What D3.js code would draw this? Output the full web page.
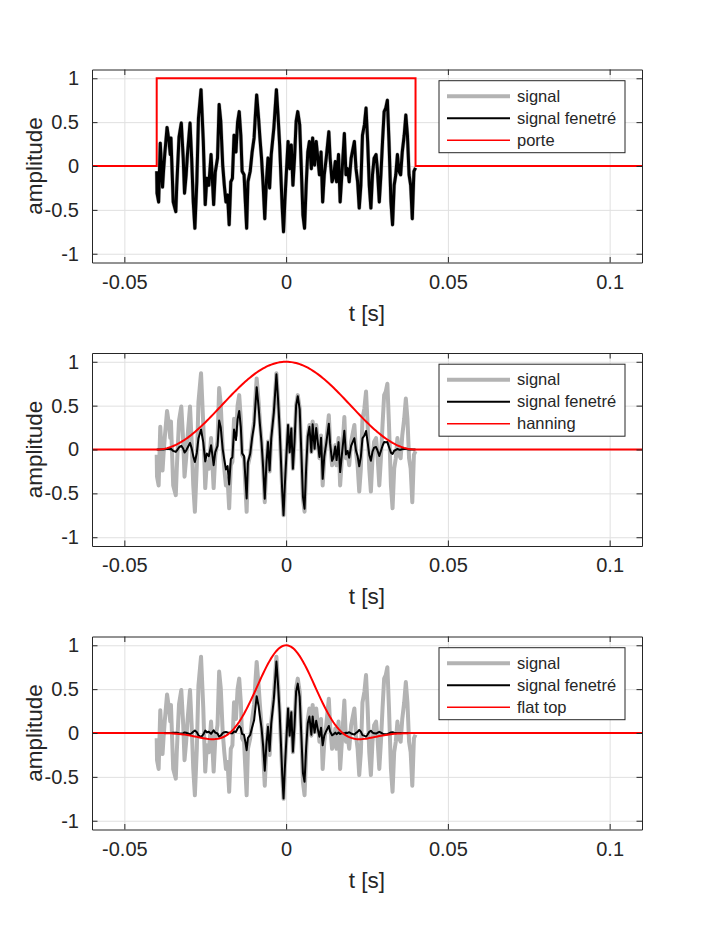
<!DOCTYPE html>
<html><head><meta charset="utf-8">
<script src="https://cdn.jsdelivr.net/npm/d3@7"></script>
<style>
body{margin:0;background:#fff}
svg{display:block}
text{font-family:"Liberation Sans",Arial,Helvetica,sans-serif;fill:#262626}
</style>
</head><body>
<svg id="c" width="709" height="945"></svg>
<script>
// ---- data (time in ms) ----
const sigT = [-40.0,-39.9,-39.4,-38.9,-38.2,-37.9,-37.5,-36.8,-36.2,-35.8,-35.6,-34.9,-34.1,-33.8,-33.1,-32.4,-31.8,-31.4,-30.9,-30.5,-29.7,-29.2,-28.7,-28.2,-27.6,-27.1,-26.3,
 -25.6,-25.0,-24.5,-23.9,-23.2,-22.7,-22.4,-21.9,-21.2,-20.7,-20.2,-19.6,-19.1,-18.6,-18.1,-17.6,-17.1,-16.6,-16.1,-15.5,-15.0,-14.5,
 -14.0,-13.6,-13.0,-12.6,-12.2,-11.8,-11.1,-10.5,-9.9,-9.5,-9.1,-8.5,-8.1,-7.6,-7.1,-6.6,-6.1,-5.6,-5.1,-4.6,-3.8,-3.0,-2.5,-2.0,
 -1.2,-0.8,-0.4,0.1,0.6,1.1,1.6,2.1,2.6,3.1,3.6,4.2,4.7,5.2,5.7,6.2,6.7,7.2,7.8,8.2,8.8,9.3,9.8,10.3,10.8,11.3,11.8,12.4,13.2,13.6,14.2,14.6,15.2,15.6,16.2,16.7,17.3,18.0,
 18.5,19.0,19.5,20.1,21.1,21.6,22.1,22.6,23.1,23.6,24.2,24.7,25.2,25.7,26.2,26.7,27.2,27.8,28.2,28.8,29.3,29.8,30.3,30.8,31.3,31.8,32.4,32.9,33.4,33.9,34.4,34.9,35.4,35.9,36.5,37.0,37.5,38.0,38.5,39.0,39.5,40.0];
const sigV = [-0.06,-0.31,-0.41,0.26,-0.24,-0.06,0.14,0.44,0.28,0.13,0.32,-0.41,-0.52,-0.22,0.33,0.49,0.09,-0.31,-0.10,0.13,0.49,0.09,-0.41,-0.71,-0.18,0.54,0.87,
 0.28,-0.44,-0.14,-0.22,0.13,-0.22,-0.44,-0.07,0.09,0.70,0.51,0.01,-0.22,-0.41,-0.33,-0.67,-0.18,-0.14,0.35,0.16,0.50,0.62,
 0.35,-0.06,-0.10,-0.41,-0.71,-0.18,-0.06,0.16,0.32,0.58,0.81,0.54,0.32,0.09,-0.22,-0.60,-0.18,0.09,-0.25,0.13,0.43,0.87,0.58,0.24,
 -0.48,-0.75,-0.41,-0.06,0.28,-0.03,0.24,-0.22,0.09,0.51,0.62,0.47,-0.03,-0.56,-0.71,-0.22,0.16,0.28,-0.03,0.32,0.01,0.28,0.09,-0.10,0.16,-0.41,-0.10,0.09,0.39,0.09,-0.18,-0.14,0.05,-0.18,0.13,-0.41,-0.06,0.37,
 -0.10,-0.03,-0.18,0.09,0.28,-0.03,-0.18,-0.48,-0.22,0.35,0.47,0.66,0.28,-0.22,-0.48,-0.10,0.09,0.13,-0.03,-0.41,-0.10,0.28,0.62,0.66,0.75,0.28,-0.41,-0.67,-0.22,-0.10,0.13,-0.06,-0.10,0.16,0.35,0.58,0.35,-0.10,-0.22,-0.60,-0.06,-0.02];
const porteT = [-60,-40,-40,40,40,110];
const porteV = [0,0,1,1,0,0];
const xTicks = [-0.05,0,0.05,0.1];
const xTickLabels = ["-0.05","0","0.05","0.1"];
const yTicks = [-1,-0.5,0,0.5,1];
const yTickLabels = ["-1","-0.5","0","0.5","1"];
const windowNames = ["porte","hanning","flat top"];
const legendNames = ["signal","signal fenetré"];
const xDomain = [-0.06,0.11];
const yDomain = [-1.1,1.1];
const halfWidth = 0.04; // window half length (s)

// window definitions
const flatA = [0.21557895,0.41663158,0.277263158,0.083578947,0.006947368];
function win(kind, t){
  if (t < -halfWidth || t > halfWidth) return 0;
  const x = (t + halfWidth) / (2*halfWidth);
  if (kind === "porte") return 1;
  if (kind === "hanning") return 0.5*(1 - Math.cos(2*Math.PI*x));
  let w = 0;
  flatA.forEach((a,k)=>{ w += (k%2 ? -1 : 1)*a*Math.cos(2*Math.PI*k*x); });
  return w;
}

const n = Math.min(sigT.length, sigV.length);
const signal = d3.range(n).map(i => ({t: sigT[i]/1000, v: sigV[i]}));

const svg = d3.select("#c");
const L = 92, R = 642, H = 193;
const tops = [69.5, 353, 636.5];
const x = d3.scaleLinear().domain(xDomain).range([L, R]);
const FONT = '"Liberation Sans",Arial,sans-serif';

windowNames.forEach((kind, p) => {
  const top = tops[p];
  const y = d3.scaleLinear().domain(yDomain).range([top + H, top]);
  const g = svg.append("g");
  const clipId = "clip" + p;
  svg.append("clipPath").attr("id", clipId).append("rect")
     .attr("x", L).attr("y", top).attr("width", R-L).attr("height", H);

  // grid
  g.append("g").attr("transform", `translate(0,${top+H})`)
    .call(d3.axisBottom(x).tickValues(xTicks).tickSize(-H).tickFormat(""))
    .call(a => { a.select(".domain").remove(); a.selectAll("line").attr("stroke","#e0e0e0").attr("stroke-width",1); });
  g.append("g").attr("transform", `translate(${L},0)`)
    .call(d3.axisLeft(y).tickValues(yTicks).tickSize(-(R-L)).tickFormat(""))
    .call(a => { a.select(".domain").remove(); a.selectAll("line").attr("stroke","#e0e0e0").attr("stroke-width",1); });

  const line = d3.line().x(d => x(d.t)).y(d => y(d.v));
  const plot = g.append("g").attr("clip-path", `url(#${clipId})`);

  // signal (gray)
  plot.append("path").datum(signal).attr("d", line)
    .attr("fill","none").attr("stroke","#b3b3b3").attr("stroke-width",4).attr("stroke-linejoin","round");
  // windowed signal
  const windowed = signal.map(d => ({t: d.t, v: d.v * win(kind, d.t)}));
  plot.append("path").datum(windowed).attr("d", line)
    .attr("fill","none").attr("stroke","#000").attr("stroke-width", p === 0 ? 3 : 2).attr("stroke-linejoin","round");
  // window curve
  let wpts;
  if (kind === "porte") {
    wpts = porteT.map((t,i) => ({t: t/1000, v: porteV[i]}));
  } else {
    wpts = [{t: xDomain[0], v: 0}]
      .concat(signal.map(d => ({t: d.t, v: win(kind, d.t)})))
      .concat([{t: xDomain[1], v: 0}]);
  }
  plot.append("path").datum(wpts).attr("d", line)
    .attr("fill","none").attr("stroke","#ff0000").attr("stroke-width",2);

  // axes box + ticks
  const tk = 5.5;
  g.append("g").attr("transform", `translate(0,${top+H})`)
    .call(d3.axisBottom(x).tickValues(xTicks).tickSizeInner(-tk).tickSizeOuter(0)
      .tickFormat((d,i) => xTickLabels[i]).tickPadding(12))
    .call(a => { a.select(".domain").attr("stroke","#262626");
      a.selectAll("line").attr("stroke","#262626");
      a.selectAll("text").attr("font-size",20).attr("fill","#262626").attr("font-family",FONT); });
  g.append("g").attr("transform", `translate(0,${top})`)
    .call(d3.axisTop(x).tickValues(xTicks).tickSizeInner(-tk).tickSizeOuter(0).tickFormat(""))
    .call(a => { a.select(".domain").attr("stroke","#262626"); a.selectAll("line").attr("stroke","#262626"); });
  g.append("g").attr("transform", `translate(${L},0)`)
    .call(d3.axisLeft(y).tickValues(yTicks).tickSizeInner(-tk).tickSizeOuter(0)
      .tickFormat((d,i) => yTickLabels[i]).tickPadding(13))
    .call(a => { a.select(".domain").attr("stroke","#262626");
      a.selectAll("line").attr("stroke","#262626");
      a.selectAll("text").attr("font-size",20).attr("fill","#262626").attr("font-family",FONT); });
  g.append("g").attr("transform", `translate(${R},0)`)
    .call(d3.axisRight(y).tickValues(yTicks).tickSizeInner(-tk).tickSizeOuter(0).tickFormat(""))
    .call(a => { a.select(".domain").attr("stroke","#262626"); a.selectAll("line").attr("stroke","#262626"); });

  // labels
  g.append("text").attr("x", (L+R)/2).attr("y", top + H + 58)
    .attr("text-anchor","middle").attr("font-size",22.5).text("t [s]");
  g.append("text").attr("transform", `translate(42,${top + H/2}) rotate(-90)`)
    .attr("text-anchor","middle").attr("font-size",22.5).text("amplitude");

  // legend
  const lx = 439, ly = top + 11.2, lw = 186, lh = 72;
  const lg = g.append("g");
  lg.append("rect").attr("x", lx).attr("y", ly).attr("width", lw).attr("height", lh)
    .attr("fill","#fff").attr("stroke","#262626").attr("stroke-width",1);
  const items = [
    {name: legendNames[0], color:"#b3b3b3", w:4},
    {name: legendNames[1], color:"#000", w:2},
    {name: kind, color:"#ff0000", w:1.5}
  ];
  items.forEach((it, i) => {
    const yy = ly + 15.5 + i*22;
    lg.append("line").attr("x1", lx+8).attr("x2", lx+71).attr("y1", yy).attr("y2", yy)
      .attr("stroke", it.color).attr("stroke-width", it.w);
    lg.append("text").attr("x", lx+78).attr("y", yy).attr("dy","0.35em")
      .attr("font-size",16.5).attr("fill","#000").text(it.name);
  });
});
</script>
</body></html>
